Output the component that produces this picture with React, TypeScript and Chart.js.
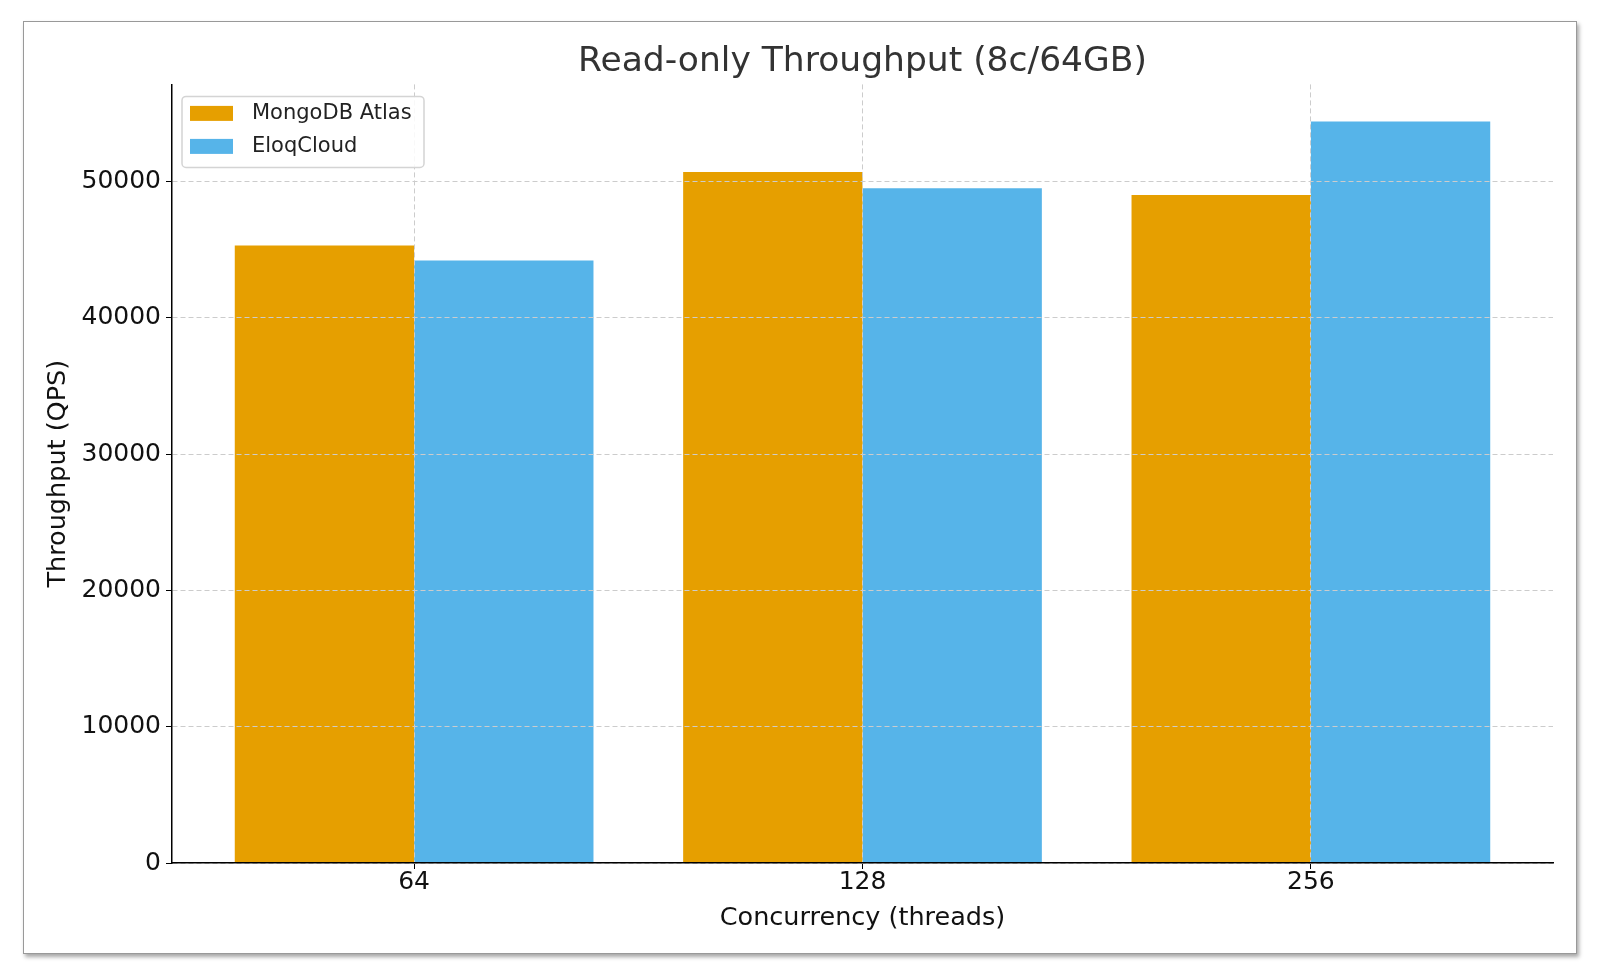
import React, { useEffect, useRef } from "react";
import Chart from "chart.js/auto";

const concurrency = ["64", "128", "256"];
const mongoAtlas = [45300, 50700, 49000];
const eloqCloud = [44200, 49500, 54400];
const yTicks = [0, 10000, 20000, 30000, 40000, 50000];
const yMax = 57120;

const FONT = "'DejaVu Sans', sans-serif";

// legend drawn inside the plot, top-left, matplotlib style
const insideLegend = {
  id: "insideLegend",
  afterDraw(chart: any) {
    const { ctx, chartArea } = chart;
    const x = chartArea.left + 10;
    const y = chartArea.top + 12;
    const w = 242;
    const h = 71;
    ctx.save();
    ctx.fillStyle = "rgba(255,255,255,0.85)";
    ctx.strokeStyle = "#d4d4d4";
    ctx.lineWidth = 1.5;
    ctx.beginPath();
    ctx.roundRect(x, y, w, h, 4);
    ctx.fill();
    ctx.stroke();
    ctx.font = `21px ${FONT}`;
    ctx.textBaseline = "middle";
    chart.data.datasets.forEach((ds: any, i: number) => {
      const cy = y + 17 + i * 33;
      ctx.fillStyle = ds.backgroundColor;
      ctx.fillRect(x + 8, cy - 7.5, 43, 15);
      ctx.fillStyle = "#222";
      ctx.fillText(ds.label, x + 70, cy);
    });
    ctx.restore();
  },
};

const ThroughputChart = () => {
  const chartRef = useRef<HTMLCanvasElement>(null);
  const myChartRef = useRef<Chart | null>(null);

  useEffect(() => {
    const canvas = chartRef.current;
    if (myChartRef.current) {
      myChartRef.current.destroy();
    }
    if (canvas) {
      myChartRef.current = new Chart(canvas, {
        type: "bar",
        data: {
          datasets: [
            {
              label: "MongoDB Atlas",
              data: mongoAtlas.map((v, i) => ({ x: i, y: v })),
              backgroundColor: "#E69F00",
              borderWidth: 0,
            },
            {
              label: "EloqCloud",
              data: eloqCloud.map((v, i) => ({ x: i, y: v })),
              backgroundColor: "#56B4E9",
              borderWidth: 0,
            },
          ],
        },
        options: {
          responsive: false,
          animation: false,
          categoryPercentage: 0.8,
          barPercentage: 1.0,
          layout: { padding: { left: 0, right: 23, top: 0, bottom: 0 } },
          scales: {
            x: {
              type: "linear",
              min: -0.54,
              max: 2.54,
              offset: false,
              afterBuildTicks: (axis: any) => {
                axis.ticks = concurrency.map((_, i) => ({ value: i }));
              },
              afterFit: (scale: any) => {
                scale.height = 90;
              },
              grid: {
                offset: false,
                z: 1, // grid over the bars, like matplotlib
                color: "#cccccc",
                lineWidth: 1,
                tickLength: 6,
                tickColor: "#000",
                tickBorderDash: [],
              },
              border: { display: true, color: "#000", width: 1.5, dash: [5, 3], z: 2 },
              ticks: {
                color: "#111",
                padding: 0,
                font: { family: FONT, size: 25, lineHeight: 1.1 },
                callback: (value: any) => concurrency[value] ?? "",
              },
              title: {
                display: true,
                text: "Concurrency (threads)",
                color: "#111",
                font: { family: FONT, size: 25.5, lineHeight: 1.2 },
                padding: { top: 0, bottom: 19 },
              },
            },
            y: {
              min: 0,
              max: yMax,
              afterBuildTicks: (axis: any) => {
                axis.ticks = yTicks.map((v) => ({ value: v }));
              },
              afterFit: (scale: any) => {
                scale.width = 148;
              },
              grid: {
                z: 1,
                color: "#cccccc",
                lineWidth: 1,
                tickLength: 6,
                tickColor: "#000",
                tickBorderDash: [],
              },
              border: { display: true, color: "#000", width: 1.5, dash: [5, 3], z: 2 },
              ticks: {
                color: "#111",
                padding: 5,
                font: { family: FONT, size: 25, lineHeight: 1.2 },
                callback: (value: any) => String(value),
              },
              title: {
                display: true,
                text: "Throughput (QPS)",
                color: "#111",
                font: { family: FONT, size: 25.5, lineHeight: 1.2 },
                padding: { top: 19, bottom: 0 },
              },
            },
          },
          plugins: {
            legend: { display: false },
            tooltip: { enabled: false },
            title: {
              display: true,
              fullSize: false,
              text: "Read-only Throughput (8c/64GB)",
              color: "#333",
              font: { family: FONT, size: 34.5, weight: "normal", lineHeight: 1.2 },
              padding: { top: 19, bottom: 2 },
            },
          },
        },
        plugins: [insideLegend],
      } as any);
    }
    return () => {
      if (myChartRef.current) {
        myChartRef.current.destroy();
        myChartRef.current = null;
      }
    };
  }, []);

  return (
    <canvas
      ref={chartRef}
      width={1552}
      height={931}
      style={{ display: "block", width: 1552, height: 931 }}
    />
  );
};

export default function App() {
  return (
    <div
      style={{
        position: "absolute",
        left: 0,
        top: 0,
        width: 1600,
        height: 979,
        background: "#fff",
      }}
    >
      <div
        style={{
          position: "absolute",
          left: 23,
          top: 21,
          width: 1552,
          height: 931,
          border: "1px solid #999",
          boxShadow: "2px 3px 4px rgba(0,0,0,0.35)",
          background: "#fff",
        }}
      >
        <ThroughputChart />
      </div>
    </div>
  );
}
